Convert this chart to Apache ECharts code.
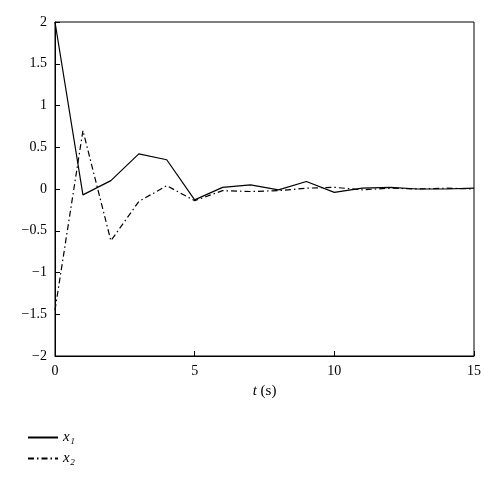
<!DOCTYPE html>
<html><head><meta charset="utf-8">
<script src="https://cdn.jsdelivr.net/npm/echarts@6/dist/echarts.min.js"></script>
<style>body{margin:0}#c{width:500px;height:481px}</style>
</head><body><div id="c"></div>
<script>
var t = [0,1,2,3,4,5,6,7,8,9,10,11,12,13,14,15];
var x1 = [2,-0.07,0.1,0.42,0.35,-0.13,0.02,0.05,-0.01,0.09,-0.04,0.01,0.02,0,0,0.01];
var x2 = [-1.45,0.7,-0.62,-0.15,0.04,-0.14,-0.02,-0.03,-0.02,0.01,0.02,-0.01,0.01,0,0.01,0];
var yTicks = {'2':'2','1.5':'1.5','1':'1','0.5':'0.5','0':'0','-0.5':'−0.5','-1':'−1','-1.5':'−1.5','-2':'−2'};
var font = 'Liberation Serif';
function pairs(ys){ return t.map(function(v,i){ return [v, ys[i]]; }); }
var chart = echarts.init(document.getElementById('c'));
chart.setOption({
  animation: false,
  textStyle: {fontFamily: font},
  grid: {left: 55, right: 26, top: 22, bottom: 125, show: true, borderColor: '#000', borderWidth: 1},
  legend: {
    orient: 'vertical', left: 22, top: 425, itemWidth: 30, itemGap: 6,
    itemStyle: {color: 'transparent', borderWidth: 0},
    textStyle: {fontFamily: font, fontStyle: 'italic', fontSize: 15, color: '#000'},
    data: ['x₁', 'x₂']
  },
  xAxis: {
    type: 'value', min: 0, max: 15, interval: 5,
    name: '{i|t} (s)', nameLocation: 'middle', nameGap: 28,
    nameTextStyle: {fontSize: 15, color: '#000', rich: {i: {fontStyle: 'italic', fontSize: 15, fontFamily: font}}},
    axisLine: {onZero: false, lineStyle: {color: '#000'}},
    axisTick: {inside: true, length: 5, lineStyle: {color: '#000'}},
    axisLabel: {color: '#000', fontSize: 14},
    splitLine: {show: false}
  },
  yAxis: {
    type: 'value', min: -2, max: 2, interval: 0.5,
    axisLine: {show: true, lineStyle: {color: '#000'}},
    axisTick: {show: true, inside: true, length: 5, lineStyle: {color: '#000'}},
    axisLabel: {color: '#000', fontSize: 14, formatter: function(v){ return yTicks[String(v)]; }},
    splitLine: {show: false}
  },
  series: [
    {name: 'x₁', type: 'line', data: pairs(x1), symbol: 'none', lineStyle: {color: '#000', width: 1.2}, itemStyle: {color: '#000'}},
    {name: 'x₂', type: 'line', data: pairs(x2), symbol: 'none', lineStyle: {color: '#000', width: 1.2, type: [6, 3, 1.5, 3]}, itemStyle: {color: '#000'}}
  ]
});
</script></body></html>
